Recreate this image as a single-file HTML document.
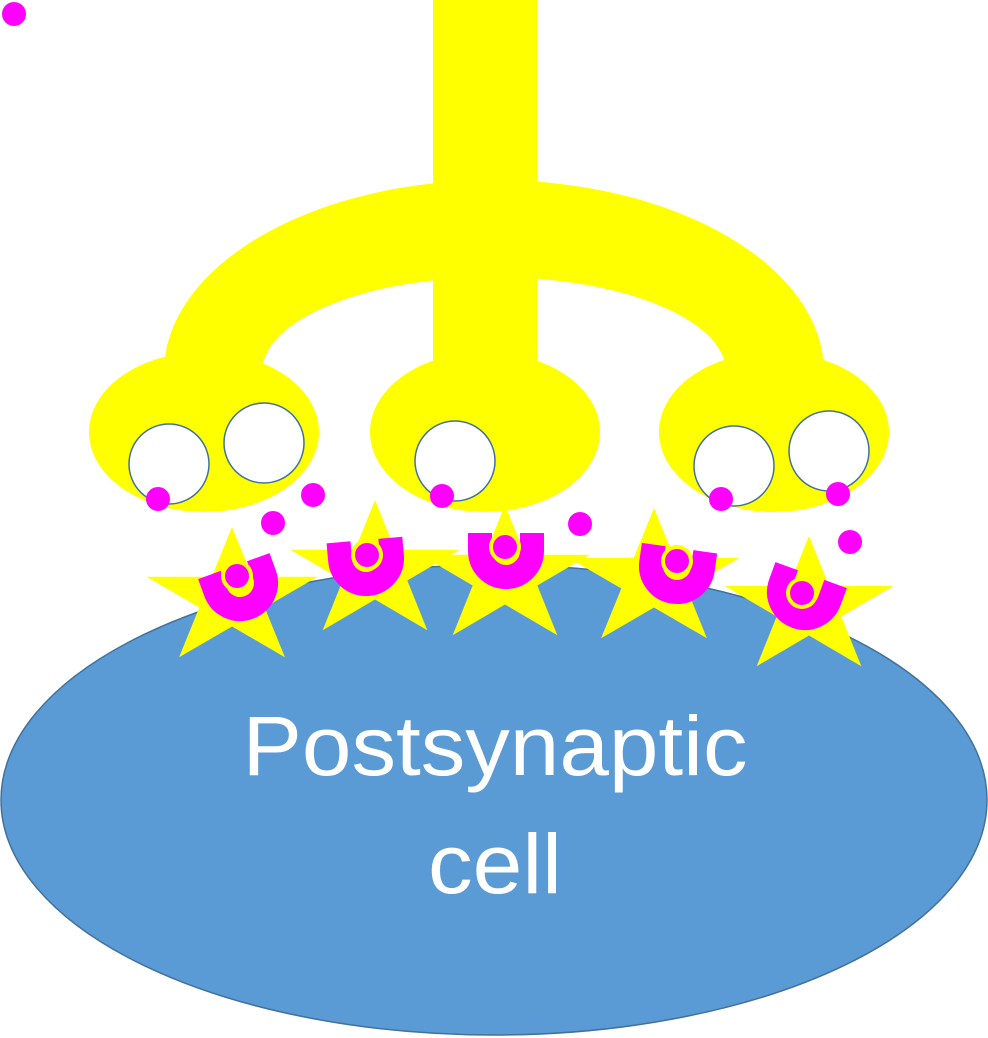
<!DOCTYPE html>
<html><head><style>html,body{margin:0;padding:0;background:#fff;}svg{display:block}</style></head>
<body>
<svg width="988" height="1038" viewBox="0 0 988 1038" xmlns="http://www.w3.org/2000/svg">
<ellipse cx="494" cy="800" rx="493" ry="235" fill="#5B9BD5" stroke="#41719C" stroke-width="1.5"/>
<rect x="433" y="0" width="104" height="380" fill="#ffff00"/>
<path d="M164 372 A330 192 0 0 1 824 372 L726 372 A232 95 0 0 0 262 372 Z" fill="#ffff00"/>
<ellipse cx="204" cy="432" rx="115" ry="80" fill="#ffff00"/>
<ellipse cx="485" cy="432" rx="115" ry="80" fill="#ffff00"/>
<ellipse cx="774" cy="432" rx="115" ry="80" fill="#ffff00"/>
<g fill="#fff" stroke="#41719C" stroke-width="1.5">
<circle cx="169" cy="464" r="40"/><circle cx="264" cy="443" r="40"/><circle cx="455" cy="461" r="40"/><circle cx="734" cy="466" r="40"/><circle cx="829" cy="451" r="40"/>
</g>
<defs>
<polygon id="st" points="0,-1 0.2245,-0.309 0.951,-0.309 0.363,0.118 0.588,0.809 0,0.382 -0.588,0.809 -0.363,0.118 -0.951,-0.309 -0.2245,-0.309"/>
<path id="u" d="M-26 -18 L-26 0 A26 26 0 0 0 26 0 L26 -18" fill="none" stroke="#ff00ff" stroke-width="24"/>
</defs>
<g fill="#ffff00">
<use href="#st" transform="translate(232,599) scale(90,72)"/>
<use href="#st" transform="translate(375,572) scale(89,72)"/>
<use href="#st" transform="translate(505,577) scale(89,72)"/>
<use href="#st" transform="translate(654,580) scale(90,72)"/>
<use href="#st" transform="translate(809,608) scale(89,72)"/>
</g>
<use href="#u" transform="translate(240,583) rotate(-20)"/>
<use href="#u" transform="translate(366,558) rotate(-5)"/>
<use href="#u" transform="translate(506,551)"/>
<use href="#u" transform="translate(677,566) rotate(8)"/>
<use href="#u" transform="translate(805,592) rotate(20)"/>
<g fill="#ffff00">
<circle cx="237" cy="576" r="16"/><circle cx="367" cy="555" r="16"/><circle cx="505" cy="547" r="16"/><circle cx="677" cy="561" r="16"/><circle cx="802" cy="593" r="16"/>
</g>
<g fill="#ff00ff">
<circle cx="14" cy="14" r="12"/><circle cx="158" cy="499" r="12"/><circle cx="273" cy="523" r="12"/><circle cx="313" cy="495" r="12"/><circle cx="442" cy="496" r="12"/><circle cx="580" cy="524" r="12"/><circle cx="721" cy="499" r="12"/><circle cx="838" cy="494" r="12"/><circle cx="850" cy="542" r="12"/>
<circle cx="237" cy="576" r="12"/><circle cx="367" cy="555" r="12"/><circle cx="505" cy="547" r="12"/><circle cx="677" cy="561" r="12"/><circle cx="802" cy="593" r="12"/>
</g>
<g fill="#fff" font-family="Liberation Sans, DejaVu Sans, sans-serif" font-size="84" text-anchor="middle">
<text x="495" y="775" textLength="505" lengthAdjust="spacingAndGlyphs">Postsynaptic</text>
<text x="495" y="893" textLength="134" lengthAdjust="spacingAndGlyphs">cell</text>
</g>
</svg>
</body></html>
